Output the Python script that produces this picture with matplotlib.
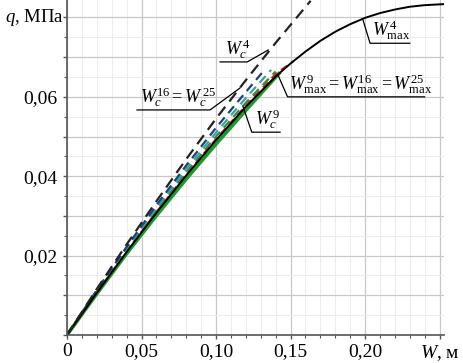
import numpy as np
import matplotlib
matplotlib.use("Agg")
import matplotlib.pyplot as plt
from matplotlib.ticker import MultipleLocator, FuncFormatter

plt.rcParams.update({
    "font.family": ["Liberation Serif", "DejaVu Serif"],
    "mathtext.fontset": "custom",
    "mathtext.rm": "Liberation Serif",
    "mathtext.it": "Liberation Serif:italic",
    "font.size": 14,
})

# deflection W, m  /  pressure q, MPa
w_c4 = [0, 0.02, 0.04, 0.06, 0.08, 0.10, 0.12, 0.14, 0.1635]
q_c4 = [0, 0.0116, 0.0228, 0.0337, 0.0443, 0.0545, 0.0642, 0.0736, 0.0842]

w_max4 = [0, 0.02, 0.04, 0.06, 0.08, 0.10, 0.12, 0.14, 0.15, 0.16, 0.17, 0.18, 0.19,
          0.20, 0.21, 0.22, 0.23, 0.24, 0.255]
q_max4 = [0, 0.0106, 0.0209, 0.0308, 0.0402, 0.0491, 0.0575, 0.0651, 0.0684, 0.0714,
          0.0741, 0.0764, 0.0783, 0.0799, 0.0811, 0.0820, 0.0827, 0.0831, 0.0834]

w_c9 = [0, 0.02, 0.04, 0.06, 0.08, 0.10, 0.12, 0.143]
q_c9 = [0, 0.0104, 0.0205, 0.0301, 0.0393, 0.0481, 0.0566, 0.0662]

w_c16 = [0, 0.02, 0.04, 0.06, 0.08, 0.10, 0.12, 0.133]
q_c16 = [0, 0.0113, 0.0222, 0.0327, 0.0427, 0.0522, 0.0612, 0.0670]

w_c25 = [0, 0.02, 0.04, 0.06, 0.08, 0.10, 0.12, 0.137]
q_c25 = [0, 0.0111, 0.0218, 0.0320, 0.0418, 0.0510, 0.0597, 0.0668]

w_g = [0, 0.02, 0.04, 0.06, 0.08, 0.10, 0.12, 0.14]
q_g = [0, 0.0109, 0.0214, 0.0314, 0.0410, 0.0500, 0.0585, 0.0664]

w_max9 = [0, 0.02, 0.04, 0.06, 0.08, 0.10, 0.12, 0.14, 0.152]
q_max9 = [0, 0.0107, 0.0211, 0.0310, 0.0405, 0.0494, 0.0578, 0.0658, 0.0690]

y_labelled = [0.02, 0.04, 0.06]


def fmt_x(v, pos):
    if abs(v - 0.25) < 1e-6:
        return r"$W$, м"
    if abs(v) < 1e-9:
        return "0"
    return f"{v:.2f}".replace(".", ",")


def fmt_y(v, pos):
    for t in y_labelled:
        if abs(v - t) < 1e-6:
            return f"{v:.2f}".replace(".", ",")
    return ""


fig = plt.figure(figsize=(4.64, 3.63), dpi=100)
ax = fig.add_axes([67 / 464, 28 / 363, 377 / 464, 335 / 363])
ax.set_xlim(0, 0.253)
ax.set_ylim(0, 0.0844)

ax.xaxis.set_major_locator(MultipleLocator(0.05))
ax.xaxis.set_minor_locator(MultipleLocator(0.01))
ax.yaxis.set_major_locator(MultipleLocator(0.01))
ax.yaxis.set_minor_locator(MultipleLocator(0.005))
ax.xaxis.set_major_formatter(FuncFormatter(fmt_x))
ax.yaxis.set_major_formatter(FuncFormatter(fmt_y))
ax.grid(which="major", color="#c8c8c8", lw=0.9)
ax.grid(which="minor", color="#ececec", lw=0.7)
ax.set_axisbelow(True)
for s in ("top", "right"):
    ax.spines[s].set_visible(False)
for s in ("left", "bottom"):
    ax.spines[s].set_color("#555555")
    ax.spines[s].set_linewidth(1.2)
ax.tick_params(which="major", length=3, width=1, color="#555555", pad=3)
ax.tick_params(which="minor", length=2, width=0.8, color="#555555")
ax.tick_params(axis="y", pad=4)

# y-axis name in place of the 0,08 tick label
ax.text(-62 / 377, 0.08, r"$q$, МПа", transform=ax.get_yaxis_transform(),
        ha="left", va="center", fontsize=13.5)

# curves
ax.plot(w_c9, q_c9, color="#1f9a2a", lw=2.6, solid_capstyle="butt")
ax.plot(w_max9, q_max9, color="#d82020", lw=1.4, ls=(0, (4, 2.5)))
ax.plot(w_g, q_g, color="#3a8a3a", lw=1.6, ls=(0, (4, 2.5)))
ax.plot(w_c25, q_c25, color="#3aa0a8", lw=1.6, ls=(0, (4, 2.5)))
ax.plot(w_c16, q_c16, color="#23407a", lw=1.6, ls=(0, (4, 2.5)))
ax.plot(w_max4, q_max4, color="black", lw=1.4)
ax.plot(w_c4, q_c4, color="#222222", lw=1.6, ls=(0, (5, 3)))

# leaders and labels
fs = 13
leader = dict(color="black", lw=0.9)
ax.plot([0.1027, 0.121, 0.135], [0.0688, 0.0688, 0.0718], **leader)
ax.text(0.106, 0.0690, r"$W_{c}^{\,4}$", ha="left", va="bottom", fontsize=fs)

ax.plot([0.047, 0.096, 0.116], [0.0567, 0.0567, 0.0622], **leader)
ax.text(0.049, 0.0569, r"$W_{c}^{16}=W_{c}^{\,25}$", ha="left", va="bottom", fontsize=fs)

ax.plot([0.118, 0.124, 0.143], [0.0577, 0.0511, 0.0511], **leader)
ax.text(0.126, 0.0513, r"$W_{c}^{\,9}$", ha="left", va="bottom", fontsize=fs)

ax.plot([0.1416, 0.148, 0.240], [0.0655, 0.0600, 0.0600], **leader)
ax.text(0.149, 0.0602, r"$W_{\mathrm{max}}^{\,9}=W_{\mathrm{max}}^{16}=W_{\mathrm{max}}^{25}$",
        ha="left", va="bottom", fontsize=fs)

ax.plot([0.1987, 0.2034, 0.230], [0.0793, 0.0735, 0.0735], **leader)
ax.text(0.205, 0.0737, r"$W_{\mathrm{max}}^{\,4}$", ha="left", va="bottom", fontsize=fs)

fig.savefig("out.png", dpi=100)
